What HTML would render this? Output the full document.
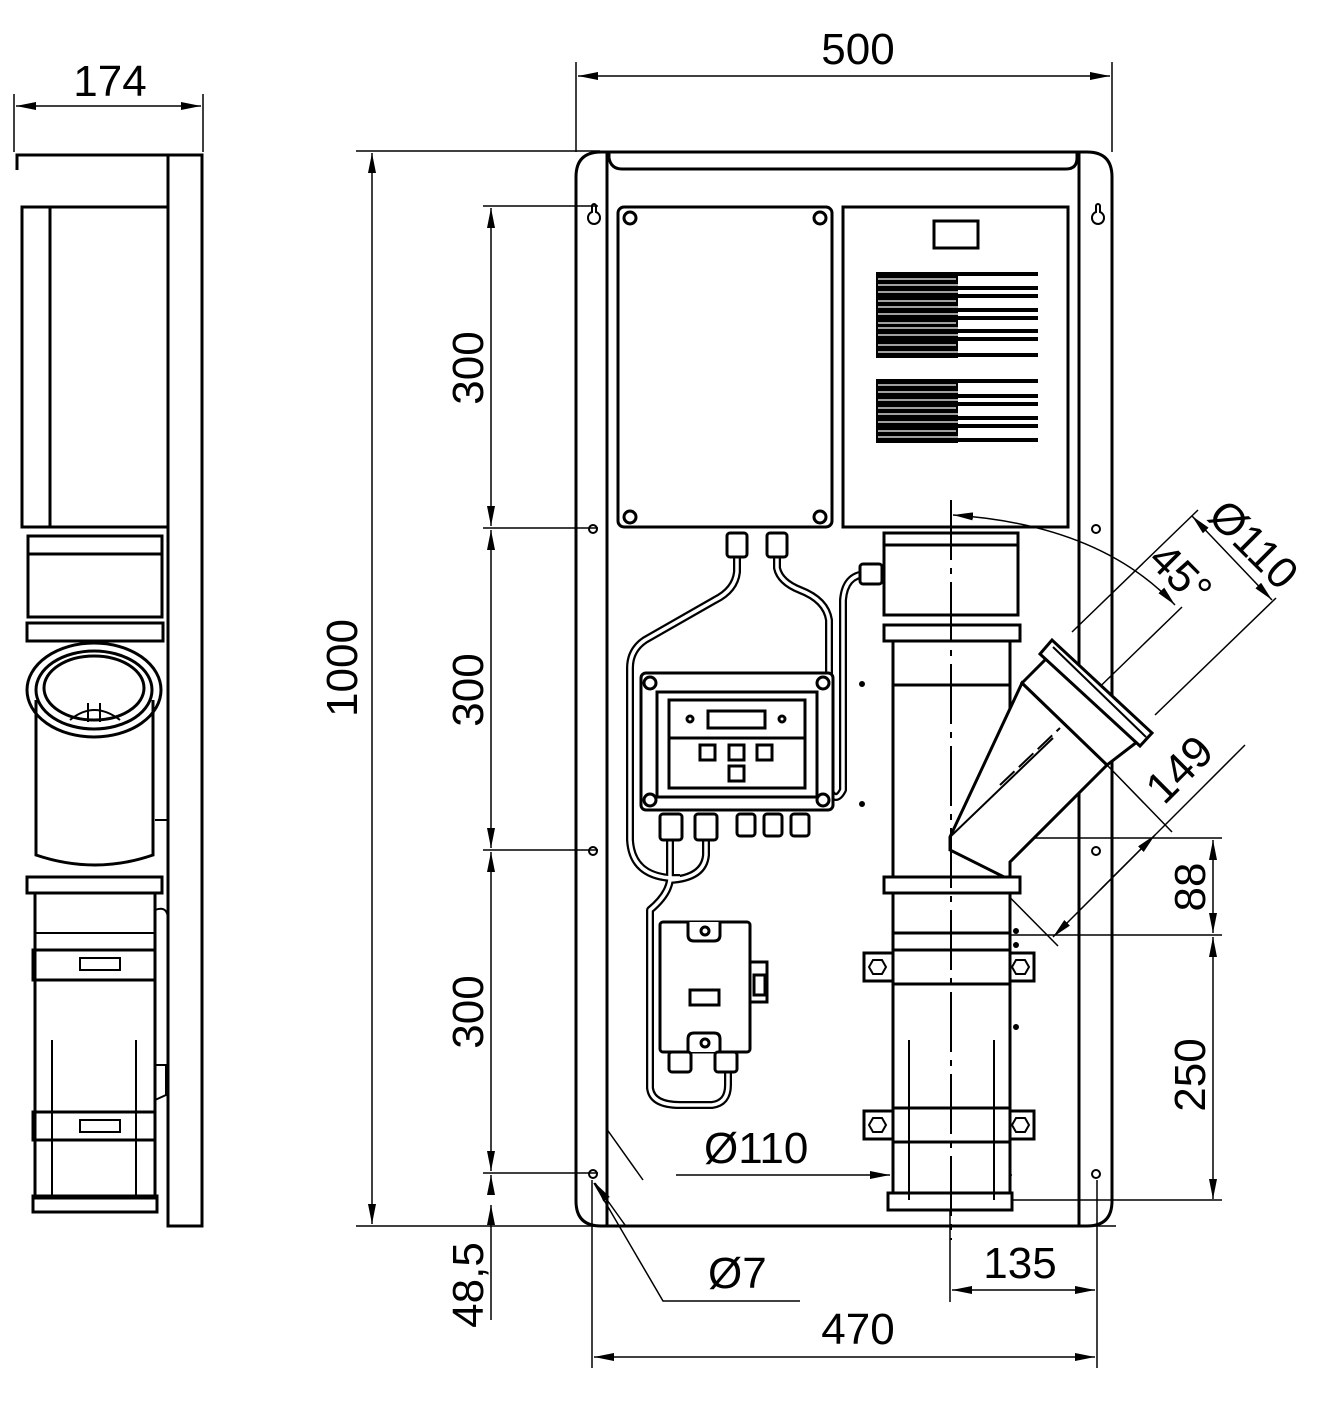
<!DOCTYPE html>
<html><head><meta charset="utf-8"><style>
html,body{margin:0;padding:0;background:#fff}
svg{display:block}
text{font-family:"Liberation Sans",sans-serif;fill:#000}
</style></head><body>
<svg width="1327" height="1408" viewBox="0 0 1327 1408" xmlns="http://www.w3.org/2000/svg">
<defs>
<marker id="a" viewBox="0 0 20 8" refX="20" refY="4" markerWidth="20" markerHeight="8" markerUnits="userSpaceOnUse" orient="auto-start-reverse"><path d="M0,0 L20,4 L0,8 z" fill="#000"/></marker>
</defs>
<g fill="none" stroke="#000" stroke-width="1.5">
<!-- ===== dimensions ===== -->
<line x1="576" y1="62" x2="576" y2="152"/><line x1="1112" y1="62" x2="1112" y2="152"/>
<line x1="578" y1="76" x2="1110" y2="76" marker-start="url(#a)" marker-end="url(#a)"/>
<line x1="14" y1="94" x2="14" y2="152"/><line x1="203" y1="94" x2="203" y2="152"/>
<line x1="16" y1="106" x2="201" y2="106" marker-start="url(#a)" marker-end="url(#a)"/>
<line x1="356" y1="151" x2="600" y2="151"/><line x1="356" y1="1226" x2="1116" y2="1226"/>
<line x1="372" y1="153" x2="372" y2="1224" marker-start="url(#a)" marker-end="url(#a)"/>
<line x1="483" y1="206" x2="598" y2="206"/><line x1="483" y1="528" x2="598" y2="528"/>
<line x1="483" y1="850" x2="598" y2="850"/><line x1="483" y1="1173" x2="598" y2="1173"/>
<line x1="491" y1="208" x2="491" y2="526" marker-start="url(#a)" marker-end="url(#a)"/>
<line x1="491" y1="530" x2="491" y2="848" marker-start="url(#a)" marker-end="url(#a)"/>
<line x1="491" y1="852" x2="491" y2="1171" marker-start="url(#a)" marker-end="url(#a)"/>
<line x1="491" y1="1195" x2="491" y2="1175" marker-end="url(#a)"/>
<line x1="491" y1="1205" x2="491" y2="1228" marker-start="url(#a)"/>
<line x1="491" y1="1228" x2="491" y2="1320"/>
<line x1="592" y1="1180" x2="592" y2="1368"/><line x1="1097" y1="1180" x2="1097" y2="1368"/>
<line x1="594" y1="1357" x2="1095" y2="1357" marker-start="url(#a)" marker-end="url(#a)"/>
<line x1="950" y1="1180" x2="950" y2="1302"/>
<line x1="952" y1="1290" x2="1095" y2="1290" marker-start="url(#a)" marker-end="url(#a)"/>
<line x1="676" y1="1175" x2="890" y2="1175" marker-end="url(#a)"/>
<line x1="1012" y1="1175" x2="990" y2="1175" marker-end="url(#a)"/>
<line x1="606" y1="1128" x2="643" y2="1180"/>
<polyline points="800,1301 663,1301 594,1183"/>
<line x1="625" y1="1225" x2="595" y2="1183" marker-end="url(#a)"/>
<line x1="950" y1="838" x2="1222" y2="838"/><line x1="1010" y1="935" x2="1222" y2="935"/>
<line x1="1213" y1="840" x2="1213" y2="933" marker-start="url(#a)" marker-end="url(#a)"/>
<line x1="1213" y1="937" x2="1213" y2="1199" marker-start="url(#a)" marker-end="url(#a)"/>
<line x1="1012" y1="1200" x2="1222" y2="1200"/>
<!-- branch dims -->
<line x1="1072" y1="632" x2="1198" y2="510"/>
<line x1="1155" y1="715" x2="1276" y2="598"/>
<line x1="1192" y1="516" x2="1272" y2="600" marker-start="url(#a)" marker-end="url(#a)"/>
<line x1="1080" y1="706" x2="1182" y2="607"/>
<path d="M953,515 Q1100,525 1175,605" marker-start="url(#a)" marker-end="url(#a)"/>
<line x1="1107" y1="765" x2="1172" y2="832"/>
<line x1="958" y1="845" x2="1058" y2="946"/>
<line x1="1245" y1="745" x2="1053" y2="937" marker-end="url(#a)"/>
<line x1="1100" y1="890" x2="1155" y2="835" marker-end="url(#a)"/>
</g>
<g font-size="44">
<text x="858" y="64" text-anchor="middle">500</text>
<text x="110" y="96" text-anchor="middle">174</text>
<text transform="translate(357,668) rotate(-90)" text-anchor="middle">1000</text>
<text transform="translate(483,368) rotate(-90)" text-anchor="middle">300</text>
<text transform="translate(483,690) rotate(-90)" text-anchor="middle">300</text>
<text transform="translate(483,1012) rotate(-90)" text-anchor="middle">300</text>
<text transform="translate(483,1285) rotate(-90)" text-anchor="middle">48,5</text>
<text x="858" y="1344" text-anchor="middle">470</text>
<text x="1020" y="1278" text-anchor="middle">135</text>
<text x="704" y="1163">Ø110</text>
<text x="708" y="1288">Ø7</text>
<text transform="translate(1205,887) rotate(-90)" text-anchor="middle">88</text>
<text transform="translate(1205,1075) rotate(-90)" text-anchor="middle">250</text>
<text transform="translate(1190,780) rotate(-45)" text-anchor="middle">149</text>
<text transform="translate(1243,555) rotate(45)" text-anchor="middle">Ø110</text>
<text transform="translate(1170,585) rotate(45)" text-anchor="middle">45°</text>
</g>

<g fill="none" stroke="#000" stroke-width="3">
<!-- ===== side view ===== -->
<rect x="168" y="155" width="34" height="1071"/>
<polyline points="17,170 17,155 168,155"/>
<rect x="22" y="207" width="146" height="320"/><line x1="50" y1="207" x2="50" y2="527"/>
<rect x="28" y="536" width="134" height="81"/><line x1="28" y1="554" x2="162" y2="554"/>
<rect x="27" y="623" width="136" height="18"/>
<path d="M36,700 L36,855 Q95,875 153,855 L153,700"/>
<ellipse cx="94" cy="690" rx="67" ry="47"/><ellipse cx="94" cy="690" rx="58" ry="39"/><ellipse cx="94" cy="688" rx="50" ry="32"/>
<path d="M70,720 Q94,700 120,720" stroke-width="2"/><line x1="88" y1="703" x2="88" y2="722" stroke-width="2"/><line x1="100" y1="703" x2="100" y2="722" stroke-width="2"/>
<rect x="27" y="877" width="135" height="16"/>
<rect x="35" y="893" width="120" height="305"/>
<line x1="35" y1="933" x2="155" y2="933" stroke-width="2"/>
<rect x="33" y="950" width="122" height="30"/><rect x="33" y="1112" width="122" height="28"/>
<rect x="80" y="958" width="40" height="12" stroke-width="2"/><rect x="80" y="1120" width="40" height="12" stroke-width="2"/>
<line x1="52" y1="1040" x2="52" y2="1198" stroke-width="2"/><line x1="136" y1="1040" x2="136" y2="1198" stroke-width="2"/>
<rect x="33" y="1196" width="124" height="16"/>
<path d="M155,820 L168,820 M155,910 Q168,905 168,920 M155,1065 L166,1065 L166,1095 L155,1100" stroke-width="2"/>

<!-- ===== main panel ===== -->
<path d="M601,152 L1087,152 Q1112,152 1112,177 L1112,1201 Q1112,1226 1087,1226 L601,1226 Q576,1226 576,1201 L576,177 Q576,152 601,152 Z"/>
<line x1="607" y1="152" x2="607" y2="1226"/><line x1="1079" y1="152" x2="1079" y2="1226"/>
<path d="M609,152 L609,158 Q611,169 622,169 L1066,169 Q1077,169 1077,158 L1077,152"/>
<!-- keyholes -->
<path d="M588,218 a6,6 0 1,0 12,0 a6,6 0 0,0 -4,-6 l0,-6 a2,2 0 0,0 -4,0 l0,6 a6,6 0 0,0 -4,6z" stroke-width="2"/>
<path d="M1092,218 a6,6 0 1,0 12,0 a6,6 0 0,0 -4,-6 l0,-6 a2,2 0 0,0 -4,0 l0,6 a6,6 0 0,0 -4,6z" stroke-width="2"/>
<g stroke-width="2"><circle cx="593" cy="529" r="4"/><circle cx="1096" cy="529" r="4"/><circle cx="593" cy="851" r="4"/><circle cx="1096" cy="851" r="4"/><circle cx="593" cy="1174" r="4"/><circle cx="1096" cy="1174" r="4"/></g>
<!-- left box -->
<rect x="618" y="207" width="214" height="320" rx="6"/>
<circle cx="630" cy="218" r="6"/><circle cx="820" cy="218" r="6"/><circle cx="630" cy="517" r="6"/><circle cx="820" cy="517" r="6"/>
<!-- right box -->
<rect x="843" y="207" width="225" height="320"/>
<rect x="934" y="221" width="44" height="27"/>
</g>
<!-- grilles -->
<g fill="#000">
<rect x="876" y="272" width="82" height="86"/><rect x="876" y="379" width="82" height="64"/>
</g>
<g stroke="#000" stroke-width="4">
<line x1="958" y1="274" x2="1038" y2="274"/><line x1="958" y1="288" x2="1038" y2="288"/><line x1="958" y1="296" x2="1038" y2="296"/><line x1="958" y1="310" x2="1038" y2="310"/><line x1="958" y1="318" x2="1038" y2="318"/><line x1="958" y1="331" x2="1038" y2="331"/><line x1="958" y1="339" x2="1038" y2="339"/><line x1="958" y1="355" x2="1038" y2="355"/>
<line x1="958" y1="381" x2="1038" y2="381"/><line x1="958" y1="396" x2="1038" y2="396"/><line x1="958" y1="404" x2="1038" y2="404"/><line x1="958" y1="418" x2="1038" y2="418"/><line x1="958" y1="426" x2="1038" y2="426"/><line x1="958" y1="440" x2="1038" y2="440"/>
</g>
<g stroke="#fff" stroke-width="1.2">
<line x1="878" y1="279" x2="956" y2="279"/><line x1="878" y1="285" x2="1036" y2="285"/><line x1="878" y1="292" x2="1036" y2="292"/><line x1="878" y1="301" x2="956" y2="301"/><line x1="878" y1="307" x2="1036" y2="307"/><line x1="878" y1="314" x2="1036" y2="314"/><line x1="878" y1="323" x2="956" y2="323"/><line x1="878" y1="328" x2="1036" y2="328"/><line x1="878" y1="335" x2="1036" y2="335"/><line x1="878" y1="345" x2="956" y2="345"/><line x1="878" y1="352" x2="1036" y2="352"/>
<line x1="878" y1="385" x2="956" y2="385"/><line x1="878" y1="392" x2="1036" y2="392"/><line x1="878" y1="400" x2="1036" y2="400"/><line x1="878" y1="408" x2="956" y2="408"/><line x1="878" y1="414" x2="1036" y2="414"/><line x1="878" y1="422" x2="1036" y2="422"/><line x1="878" y1="431" x2="956" y2="431"/><line x1="878" y1="437" x2="1036" y2="437"/>
</g>
<!-- cables -->
<g fill="none" stroke="#000" stroke-width="8" stroke-linejoin="round">
<path id="c1" d="M737,555 L737,572 Q735,590 715,600 L645,640 Q630,650 630,668 L630,840 Q632,875 670,878 L680,878"/>
<path d="M706,838 L706,855 Q704,878 670,880"/>
<path d="M670,838 L670,880 Q668,895 650,910 L650,1088 Q652,1105 680,1105 L712,1105 Q728,1103 728,1085 L728,1070"/>
<path d="M777,555 L777,568 Q780,582 800,590 Q826,600 829,620 L829,790 Q836,804 843,790 L843,600 Q845,575 866,574"/>
</g>
<g fill="none" stroke="#fff" stroke-width="3.5" stroke-linejoin="round">
<path d="M737,555 L737,572 Q735,590 715,600 L645,640 Q630,650 630,668 L630,840 Q632,875 670,878 L680,878"/>
<path d="M706,838 L706,855 Q704,878 670,880"/>
<path d="M670,838 L670,880 Q668,895 650,910 L650,1088 Q652,1105 680,1105 L712,1105 Q728,1103 728,1085 L728,1070"/>
<path d="M777,555 L777,568 Q780,582 800,590 Q826,600 829,620 L829,790 Q836,804 843,790 L843,600 Q845,575 866,574"/>
</g>
<g fill="#fff" stroke="#000" stroke-width="3">
<!-- glands top -->
<rect x="727" y="533" width="20" height="24" rx="3"/><rect x="767" y="533" width="20" height="24" rx="3"/>
<rect x="860" y="564" width="22" height="20" rx="3"/>
<!-- controller -->
<rect x="641" y="673" width="192" height="137" rx="5"/>
<rect x="657" y="692" width="160" height="105"/>
<rect x="669" y="700" width="136" height="88"/>
<line x1="669" y1="738" x2="805" y2="738"/>
<rect x="708" y="711" width="57" height="17"/>
<circle cx="690" cy="719" r="3"/><circle cx="782" cy="719" r="3"/>
<rect x="700" y="745" width="15" height="15"/><rect x="729" y="745" width="15" height="15"/><rect x="757" y="745" width="15" height="15"/><rect x="729" y="766" width="15" height="15"/>
<circle cx="650" cy="683" r="6"/><circle cx="823" cy="683" r="6"/><circle cx="650" cy="800" r="6"/><circle cx="823" cy="800" r="6"/>
<rect x="660" y="814" width="22" height="26" rx="3"/><rect x="695" y="814" width="22" height="26" rx="3"/>
<rect x="737" y="814" width="18" height="22" rx="3"/><rect x="764" y="814" width="18" height="22" rx="3"/><rect x="791" y="814" width="18" height="22" rx="3"/>
<!-- junction box -->
<rect x="660" y="922" width="90" height="130" rx="3"/>
<path d="M688,922 L688,935 Q688,941 694,941 L714,941 Q720,941 720,935 L720,922"/>
<path d="M688,1052 L688,1039 Q688,1033 694,1033 L714,1033 Q720,1033 720,1039 L720,1052"/>
<circle cx="705" cy="931" r="4"/><circle cx="705" cy="1043" r="4"/>
<rect x="690" y="990" width="29" height="15"/>
<rect x="750" y="962" width="17" height="40"/><rect x="754" y="975" width="11" height="20"/>
<rect x="669" y="1052" width="22" height="20" rx="3"/><rect x="715" y="1052" width="22" height="20" rx="3"/>
</g>
<g fill="#000"><circle cx="862" cy="684" r="3"/><circle cx="862" cy="804" r="3"/><circle cx="1016" cy="931" r="3"/><circle cx="1016" cy="945" r="3"/><circle cx="1016" cy="1027" r="3"/></g>

<!-- right pipe -->
<g fill="#fff" stroke="#000" stroke-width="3">
<rect x="893" y="640" width="117" height="560"/>
<line x1="893" y1="685" x2="1010" y2="685"/>
<line x1="893" y1="933" x2="1010" y2="933"/>
<!-- branch -->
<polygon points="950,837 1022,683 1107,765 1010,862 1010,880 950,850"/>
<line x1="950" y1="837" x2="1053" y2="738" stroke-width="2"/>
<polygon points="1022,683 1047,658 1137,742 1107,765"/>
<polygon points="1040,654 1052,640 1152,733 1140,746"/>
<line x1="1053" y1="647" x2="1146" y2="737" stroke-width="2"/>
<rect x="884" y="533" width="134" height="82"/><line x1="884" y1="545" x2="1018" y2="545"/>
<rect x="884" y="625" width="136" height="16"/>
<rect x="884" y="877" width="136" height="16"/>
<rect x="864" y="953" width="170" height="28"/><rect x="893" y="950" width="117" height="34"/>
<rect x="864" y="1111" width="170" height="28"/><rect x="893" y="1108" width="117" height="34"/>
<rect x="888" y="1193" width="124" height="17"/>
</g>
<g fill="none" stroke="#000" stroke-width="2">
<polygon points="869,967 873,960 882,960 886,967 882,974 873,974"/><polygon points="1012,967 1016,960 1025,960 1029,967 1025,974 1016,974"/>
<polygon points="869,1125 873,1118 882,1118 886,1125 882,1132 873,1132"/><polygon points="1012,1125 1016,1118 1025,1118 1029,1125 1025,1132 1016,1132"/>
<line x1="909" y1="1040" x2="909" y2="1200"/><line x1="994" y1="1040" x2="994" y2="1200"/>
<line x1="951" y1="500" x2="951" y2="1240" stroke-dasharray="60,8,6,8"/>
<line x1="1000" y1="785" x2="1060" y2="728" stroke-dasharray="20,6"/>
</g>
</svg>
</body></html>
